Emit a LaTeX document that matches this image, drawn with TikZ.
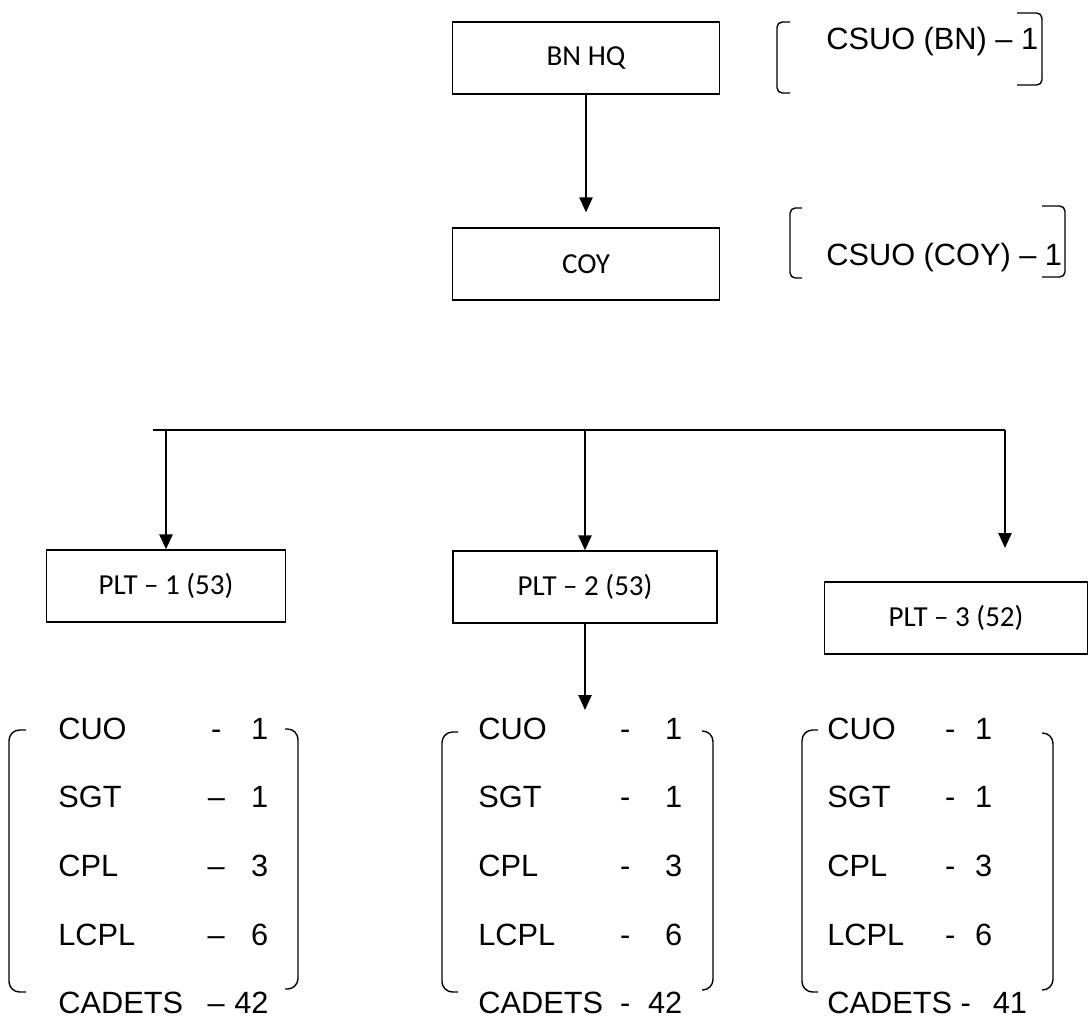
\documentclass[tikz,border=0pt]{standalone}
\usepackage{fontspec}
\setmainfont{Liberation Sans}
\newfontfamily\boxfont{Carlito}
\usepackage{array}
\usetikzlibrary{arrows.meta}

\newcolumntype{L}[1]{>{\raggedright\arraybackslash}p{#1}}
\newcolumntype{C}[1]{>{\centering\arraybackslash}p{#1}}
\newcolumntype{R}[1]{>{\raggedleft\arraybackslash}p{#1}}

\tikzset{
  unitbox/.style={draw, line width=0.8pt, inner sep=0pt, minimum height=1.44cm,
    font=\boxfont\fontsize{16.5}{19}\selectfont},
  feed/.style={line width=1.1pt, -{Triangle[length=8.5pt,width=7.5pt]}},
  bracket/.style={line width=0.8pt, rounded corners=6pt},
  sqbracket/.style={line width=0.8pt, rounded corners=3pt},
  strength/.style={anchor=base west, inner sep=0pt, font=\fontsize{17.5}{21}\selectfont},
  roster/.style={anchor=base west, inner sep=0pt, font=\fontsize{17.5}{39.1}\selectfont},
}

\begin{document}
\begin{tikzpicture}[x=0.02cm, y=-0.02cm]
\useasboundingbox (0,0) rectangle (1089,1032);

% command boxes
\node [unitbox, minimum width=5.34cm] (bnhq) at (586,58) {BN HQ};
\node [unitbox, minimum width=5.34cm] (coy) at (586,264) {COY};

\draw [feed, shorten >=0.3cm] (bnhq) -- (coy);

% strength at bn and coy
\node [strength] (csuobn) at (826,49) {CSUO (BN) – 1};
\draw [sqbracket] (790,22) -- (777,22) -- (777,93) -- (790,93);
\draw [sqbracket] (1017,13) -- (1042,13) -- (1042,85) -- (1017,85);

\node [strength] (csuocoy) at (826,265) {CSUO (COY) – 1};
\draw [sqbracket] (802,208) -- (790,208) -- (790,278) -- (802,278);
\draw [sqbracket] (1042,206) -- (1065,206) -- (1065,277) -- (1042,277);

% platoons
\node [unitbox, minimum width=4.78cm] (plt1) at (166,586) {PLT – 1 (53)};
\node [unitbox, minimum width=5.28cm] (plt2) at (585,587) {PLT – 2 (53)};
\node [unitbox, minimum width=5.26cm] (plt3) at (956,618) {PLT – 3 (52)};

\coordinate (busl) at (153,430);
\coordinate (busr) at (1005,430);
\coordinate (plt3in) at (1005,548);
\coordinate (grp2in) at (585,710);

\draw [line width=1.1pt] (busl) -- (busr);
\draw [feed] (plt1 |- busl) -- (plt1);
\draw [feed] (plt2 |- busl) -- (plt2);
\draw [feed] (busr) -- (plt3in);
\draw [feed] (plt2) -- (grp2in);

% platoon strengths
\node [roster] (grp1) at (58,739) {\begin{tabular}[t]{@{}L{2.8cm}@{}C{0.72cm}@{}R{0.68cm}@{}}
CUO & - & 1\\
SGT & – & 1\\
CPL & – & 3\\
LCPL & – & 6\\
CADETS & – & 42
\end{tabular}};
\draw [bracket] (26,730) -- (9,730) -- (9,992) -- (26,992);
\draw [bracket] (285,729) -- (298,729) -- (298,989) -- (285,989);

\node [roster] (grp2) at (478,739) {\begin{tabular}[t]{@{}L{2.56cm}@{}C{0.76cm}@{}R{0.76cm}@{}}
CUO & - & 1\\
SGT & - & 1\\
CPL & - & 3\\
LCPL & - & 6\\
CADETS & - & 42
\end{tabular}};
\draw [bracket] (458,732) -- (442,732) -- (442,992) -- (458,992);
\draw [bracket] (702,731) -- (713,731) -- (713,990) -- (702,990);

\node [roster] (grp3) at (827,739) {\begin{tabular}[t]{@{}L{2.2cm}@{}C{0.52cm}@{}R{0.58cm}@{}}
CUO & - & 1\\
SGT & - & 1\\
CPL & - & 3\\
LCPL & - & 6\\
\multicolumn{3}{@{}l@{}}{CADETS -\hspace{0.44cm}41}
\end{tabular}};
\draw [bracket] (818,730) -- (802,730) -- (802,992) -- (818,992);
\draw [bracket] (1042,733) -- (1053,733) -- (1053,990) -- (1042,990);

\end{tikzpicture}
\end{document}
